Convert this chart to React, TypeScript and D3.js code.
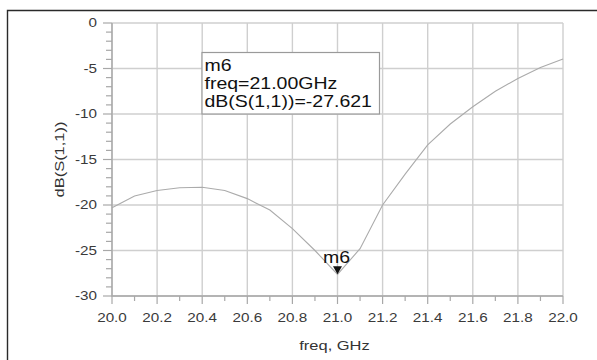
import React, { useEffect, useRef } from 'react';
import * as d3 from 'd3';

// sweep points, GHz
const freqs = [20.0, 20.1, 20.2, 20.3, 20.4, 20.5, 20.6, 20.7, 20.8, 20.9, 21.0, 21.1, 21.2, 21.3, 21.4, 21.5, 21.6, 21.7, 21.8, 21.9, 22.0];
// dB(S(1,1))
const s11 = [-20.3, -19.0, -18.4, -18.1, -18.05, -18.4, -19.3, -20.55, -22.6, -25.0, -27.621, -24.8, -20.0, -16.6, -13.4, -11.1, -9.2, -7.5, -6.1, -4.9, -3.95];

const xTicks = [20.0, 20.2, 20.4, 20.6, 20.8, 21.0, 21.2, 21.4, 21.6, 21.8, 22.0];
const xMinor = [20.1, 20.3, 20.5, 20.7, 20.9, 21.1, 21.3, 21.5, 21.7, 21.9];
const yTicks = [0, -5, -10, -15, -20, -25, -30];

const markerName = 'm6';
const markerFreq = 21.0;
const markerValue = -27.621;
const markerLines = ['m6', 'freq=21.00GHz', 'dB(S(1,1))=-27.621'];

export default function App() {
  const svgRef = useRef<SVGSVGElement>(null);

  useEffect(() => {
    if (!svgRef.current) return;
    const svg = d3.select(svgRef.current);
    svg.selectAll('*').remove();

    const left = 112;
    const right = 563;
    const top = 23;
    const bottom = 296;
    const font = 'Arial, "Liberation Sans", sans-serif';
    const stretch = 1.22;

    const x = d3.scaleLinear().domain([20, 22]).range([left, right]);
    const y = d3.scaleLinear().domain([-30, 0]).range([bottom, top]);

    // outer frame (top + left only visible)
    svg.append('path')
      .attr('d', `M7.5,360 V10.5 H597`)
      .attr('fill', 'none')
      .attr('stroke', '#2a2a2a')
      .attr('stroke-width', 1.4);

    const grid = svg.append('g').attr('stroke', '#cfcfcf').attr('stroke-width', 1.4);
    xTicks.forEach((t) => {
      grid.append('line').attr('x1', x(t)).attr('x2', x(t)).attr('y1', top).attr('y2', bottom);
    });
    yTicks.forEach((t) => {
      grid.append('line').attr('x1', left).attr('x2', right).attr('y1', y(t)).attr('y2', y(t));
    });

    // axis lines
    svg.append('path')
      .attr('d', `M${left},${top} V${bottom} H${right}`)
      .attr('fill', 'none')
      .attr('stroke', '#a8a8a8')
      .attr('stroke-width', 1.4);

    const ticks = svg.append('g').attr('stroke', '#a8a8a8').attr('stroke-width', 1.2);
    xTicks.forEach((t) => {
      ticks.append('line').attr('x1', x(t)).attr('x2', x(t)).attr('y1', bottom).attr('y2', bottom + 8);
    });
    xMinor.forEach((t) => {
      ticks.append('line').attr('x1', x(t)).attr('x2', x(t)).attr('y1', bottom).attr('y2', bottom + 5);
    });
    d3.range(0, -31, -1).forEach((t) => {
      const major = t % 5 === 0;
      ticks.append('line')
        .attr('x1', left - (major ? 9 : 6))
        .attr('x2', left)
        .attr('y1', y(t))
        .attr('y2', y(t));
    });

    const label = (g: any, tx: number, ty: number, text: string, size: number, anchor: string, color = '#333') =>
      g.append('text')
        .attr('transform', `translate(${tx},${ty}) scale(${stretch},1)`)
        .attr('text-anchor', anchor)
        .attr('font-family', font)
        .attr('font-size', size)
        .attr('fill', color)
        .text(text);

    xTicks.forEach((t) => label(svg, x(t), 321.5, t.toFixed(1), 12.5, 'middle', '#3a3a3a'));
    yTicks.forEach((t) => label(svg, 97, y(t) + 4.4, String(t), 12.5, 'end', '#3a3a3a'));

    // axis titles
    label(svg, (left + right) / 2 - 3, 350, 'freq, GHz', 13.5, 'middle');
    svg.append('text')
      .attr('transform', `translate(63.5,${(top + bottom) / 2}) rotate(-90) scale(${stretch},1)`)
      .attr('text-anchor', 'middle')
      .attr('font-family', font)
      .attr('font-size', 13.5)
      .attr('fill', '#333')
      .text('dB(S(1,1))');

    // trace
    const pts = freqs.map((f, i) => [f, s11[i]] as [number, number]);
    const line = d3.line<[number, number]>().x((d) => x(d[0])).y((d) => y(d[1]));
    svg.append('path')
      .datum(pts)
      .attr('d', line)
      .attr('fill', 'none')
      .attr('stroke', '#ababab')
      .attr('stroke-width', 1.1);

    // marker readout box
    const box = svg.append('g');
    box.append('rect')
      .attr('x', 202)
      .attr('y', 52.5)
      .attr('width', 177.5)
      .attr('height', y(-10) - 52.5)
      .attr('fill', 'white')
      .attr('stroke', '#9a9a9a')
      .attr('stroke-width', 1.2);
    markerLines.forEach((t, i) => label(box, 204.5, 70.5 + i * 18, t, 16, 'start', '#111'));

    // marker triangle + name
    const mx = x(markerFreq);
    const my = y(markerValue);
    svg.append('path')
      .attr('d', `M${mx},${my} L${mx - 4.5},${my - 8} L${mx + 4.5},${my - 8} Z`)
      .attr('fill', '#111');
    label(svg, mx - 1, my - 11.5, markerName, 16, 'middle', '#111');
  }, []);

  return (
    <svg
      ref={svgRef}
      width={597}
      height={360}
      style={{ position: 'absolute', left: 0, top: 0, background: 'white' }}
    />
  );
}
